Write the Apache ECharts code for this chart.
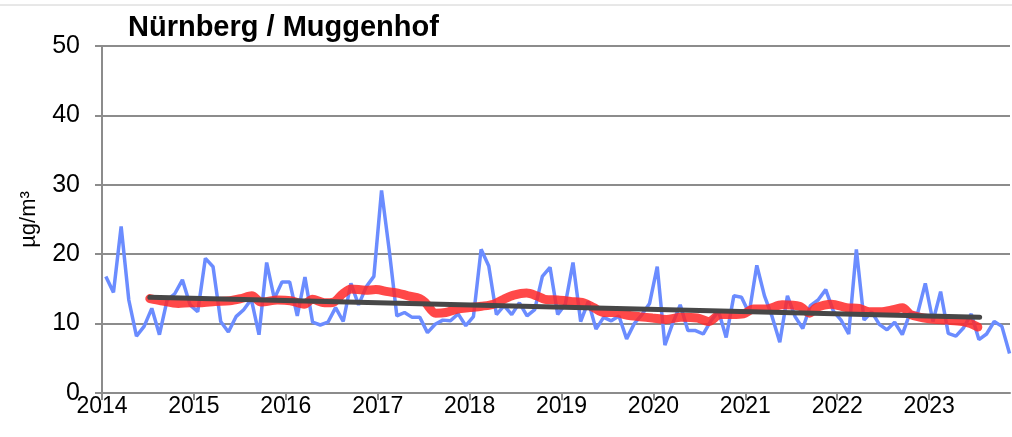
<!DOCTYPE html>
<html>
<head>
<meta charset="utf-8">
<script src="https://cdn.jsdelivr.net/npm/echarts@6/dist/echarts.min.js"></script>
<style>html,body{margin:0;padding:0;background:#fff;}#c{width:1012px;height:437px;}</style>
</head>
<body>
<div id="c"></div>
<script>
// Monthly means, Jan 2014 .. Nov 2023 (µg/m³)
const startYear = 2014;
const monthlyValues = [
  16.8, 14.5, 24.0, 13.4, 8.2, 9.6, 12.2, 8.4, 13.4, 14.3, 16.3, 12.7,
  11.7, 19.4, 18.2, 10.3, 8.8, 11.0, 12.0, 13.5, 8.4, 18.8, 13.6, 16.0,
  16.0, 11.1, 16.7, 10.2, 9.8, 10.2, 12.3, 10.3, 15.8, 12.7, 15.3, 16.8,
  29.2, 20.6, 11.1, 11.6, 10.9, 10.9, 8.7, 9.9, 10.5, 10.4, 11.4, 9.7,
  11.0, 20.7, 18.3, 11.3, 12.6, 11.3, 13.0, 11.1, 12.0, 16.8, 18.1, 11.3,
  12.8, 18.8, 10.3, 13.2, 9.2, 10.9, 10.4, 11.1, 7.8, 10.0, 11.3, 12.9,
  18.2, 6.9, 10.0, 12.7, 9.0, 9.0, 8.5, 10.4, 11.8, 8.0, 14.0, 13.8,
  11.5, 18.4, 14.0, 11.0, 7.3, 14.0, 11.0, 9.3, 12.6, 13.4, 14.9, 11.8,
  10.5, 8.5, 20.7, 10.5, 11.7, 9.9, 9.1, 10.2, 8.4, 11.5, 11.5, 15.8,
  10.3, 14.6, 8.6, 8.2, 9.4, 11.4, 7.7, 8.5, 10.3, 9.6, 5.7
];
// Moving average, decimal years
const avgYears = [2014.52,2014.64,2014.83,2014.96,2015.07,2015.23,2015.39,2015.51,2015.63,2015.73,2015.91,2016.05,2016.20,2016.29,2016.42,2016.52,2016.62,2016.71,2016.87,2016.98,2017.11,2017.22,2017.33,2017.46,2017.52,2017.63,2017.74,2017.87,2018.00,2018.13,2018.26,2018.37,2018.48,2018.62,2018.73,2018.82,2018.96,2019.10,2019.24,2019.35,2019.46,2019.58,2019.72,2019.85,2019.99,2020.14,2020.30,2020.48,2020.60,2020.73,2020.86,2020.98,2021.09,2021.23,2021.40,2021.59,2021.70,2021.77,2021.94,2022.10,2022.24,2022.35,2022.47,2022.61,2022.71,2022.80,2023.00,2023.20,2023.36,2023.45,2023.53];
const avgValues = [13.6,13.3,12.9,13.0,13.0,13.2,13.3,13.6,14.0,13.1,13.4,13.3,12.8,13.5,13.0,13.1,14.3,15.0,14.8,14.9,14.6,14.4,14.0,13.6,13.0,11.5,11.6,12.1,12.3,12.5,12.8,13.5,14.1,14.4,14.0,13.5,13.4,13.2,13.0,12.3,11.6,11.6,11.2,11.0,10.8,10.6,10.9,10.8,10.3,11.3,11.3,11.4,12.1,12.1,12.7,12.5,11.5,12.3,12.8,12.3,12.2,11.7,11.7,12.0,12.3,11.3,10.7,10.5,10.3,10.0,9.5];
// Linear trend end points
const trendYears = [2014.52, 2023.55];
const trendValues = [13.8, 10.9];
const yearTicks = [2014,2015,2016,2017,2018,2019,2020,2021,2022,2023];
const titleText = 'Nürnberg / Muggenhof';
const yAxisName = 'µg/m³';

const blueData = monthlyValues.map((v, i) => [startYear + (i + 0.5) / 12, v]);
const redData = avgYears.map((x, i) => [x, avgValues[i]]);
const trendData = trendYears.map((x, i) => [x, trendValues[i]]);

const FONT = '"Liberation Sans", Arial, sans-serif';
const chart = echarts.init(document.getElementById('c'), null, {renderer: 'canvas'});
chart.setOption({
  animation: false,
  backgroundColor: '#fff',
  title: {
    text: titleText, left: 123, top: 8,
    textStyle: {fontFamily: FONT, fontSize: 29, fontWeight: 'bold', color: '#000'}
  },
  graphic: [{type: 'line', shape: {x1: 0, y1: 5, x2: 1012, y2: 5}, style: {stroke: '#d0d0d0', lineWidth: 1}}],
  grid: {left: 102, right: 2, top: 46, bottom: 44},
  xAxis: {
    type: 'value', min: 2014, max: 2023.88, interval: 1,
    axisLine: {show: true, lineStyle: {color: '#8c8c8c', width: 2}},
    axisTick: {show: true, length: 7, lineStyle: {color: '#8c8c8c', width: 2}},
    splitLine: {show: false},
    axisLabel: {
      fontFamily: FONT, fontSize: 23, color: '#000', margin: 2, showMaxLabel: false,
      formatter: v => yearTicks.includes(v) ? String(v) : ''
    }
  },
  yAxis: {
    type: 'value', min: 0, max: 50, interval: 10,
    name: yAxisName, nameLocation: 'middle', nameGap: 62, nameRotate: 90,
    nameTextStyle: {fontFamily: FONT, fontSize: 22, color: '#000'},
    axisLine: {show: true, lineStyle: {color: '#8c8c8c', width: 2}},
    axisTick: {show: true, length: 7, lineStyle: {color: '#8c8c8c', width: 2}},
    splitLine: {show: true, lineStyle: {color: '#8c8c8c', width: 2}},
    axisLabel: {fontFamily: FONT, fontSize: 25, color: '#000', margin: 22}
  },
  series: [
    {type: 'line', data: blueData, showSymbol: false, symbol: 'none',
     lineStyle: {color: '#6b8cff', width: 3.5}, z: 2},
    {type: 'line', data: redData, showSymbol: false, symbol: 'none', smooth: 0.3,
     lineStyle: {color: 'rgba(255,40,40,0.85)', width: 9, cap: 'round'}, z: 3},
    {type: 'line', data: trendData, showSymbol: false, symbol: 'none',
     lineStyle: {color: '#474747', width: 5, cap: 'round'}, z: 4}
  ]
});
</script>
</body>
</html>
